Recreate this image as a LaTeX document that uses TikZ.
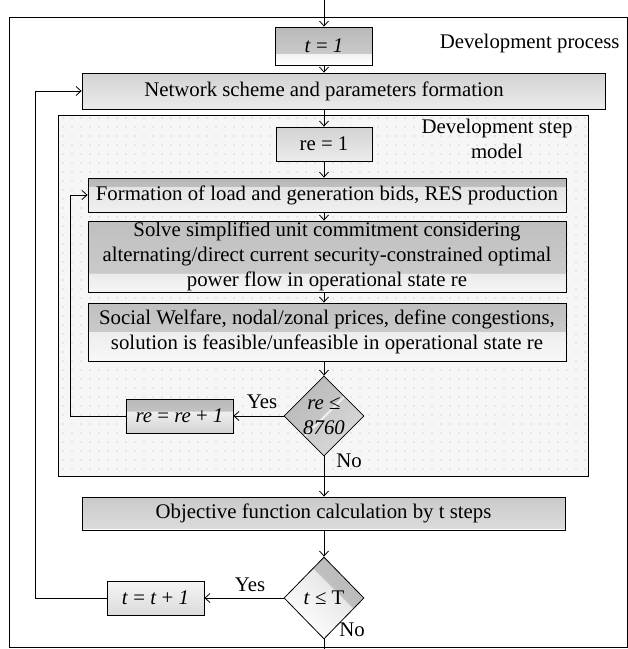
\documentclass[tikz,border=0pt]{standalone}
\usepackage{fontspec}
\setmainfont{Liberation Serif}
\usetikzlibrary{arrows.meta,shapes.geometric,patterns.meta}

% glossy box fills: light lower band, darker upper band
\pgfdeclareverticalshading{shT}{100bp}{color(0bp)=(white); color(25bp)=(white); color(40bp)=(gray!10); color(40.5bp)=(gray!42); color(75bp)=(gray!55); color(100bp)=(gray!55)}
\pgfdeclareverticalshading{shNet}{100bp}{color(0bp)=(gray!15); color(25bp)=(gray!15); color(75bp)=(gray!35); color(100bp)=(gray!35)}
\pgfdeclareverticalshading{shForm}{100bp}{color(0bp)=(gray!12); color(25bp)=(gray!12); color(62bp)=(gray!22); color(62.5bp)=(gray!50); color(75bp)=(gray!58); color(100bp)=(gray!58)}
\pgfdeclareverticalshading{shSolve}{100bp}{color(0bp)=(gray!8); color(25bp)=(gray!8); color(38bp)=(gray!16); color(38.5bp)=(gray!42); color(75bp)=(gray!50); color(100bp)=(gray!50)}
\pgfdeclareverticalshading{shSocial}{100bp}{color(0bp)=(gray!6); color(25bp)=(gray!6); color(50bp)=(gray!14); color(50.5bp)=(gray!42); color(75bp)=(gray!50); color(100bp)=(gray!50)}
\pgfdeclareverticalshading{shObj}{100bp}{color(0bp)=(white); color(25bp)=(white); color(27bp)=(white); color(27.5bp)=(gray!28); color(75bp)=(gray!42); color(100bp)=(gray!42)}
\pgfdeclareverticalshading{shInc}{100bp}{color(0bp)=(gray!35); color(25bp)=(gray!35); color(57bp)=(gray!12); color(57.5bp)=(gray!48); color(75bp)=(gray!55); color(100bp)=(gray!55)}
\pgfdeclareverticalshading{shTinc}{100bp}{color(0bp)=(gray!28); color(25bp)=(gray!28); color(75bp)=(gray!8); color(100bp)=(gray!8)}
\pgfdeclareverticalshading{shDiaA}{100bp}{color(0bp)=(gray!30); color(25bp)=(gray!30); color(49bp)=(gray!40); color(50bp)=(gray!5); color(51bp)=(gray!45); color(75bp)=(gray!55); color(100bp)=(gray!55)}
\pgfdeclareverticalshading{shDiaB}{100bp}{color(0bp)=(white); color(25bp)=(white); color(58bp)=(gray!18); color(58.5bp)=(gray!50); color(75bp)=(gray!55); color(100bp)=(gray!55)}

\tikzset{
  txt/.style={font=\fontsize{20.8}{25}\selectfont},
  box/.style={txt, draw=black, line width=0.8pt, rectangle, inner sep=0pt, align=center},
  dia/.style={txt, draw=black, line width=0.8pt, diamond, inner sep=0pt, shading angle=#1},
  flow/.style={line width=0.8pt, -{Straight Barb[length=5pt,width=9pt]}},
  line/.style={line width=0.8pt},
}

\begin{document}
\begin{tikzpicture}[x=1pt, y=-1pt]
\useasboundingbox (0,0) rectangle (628,649);

% outer frame of the development process
\draw[line] (9,17) rectangle (627,647);
\node[txt, anchor=east] (devproc) at (623,43) {Development process};

% dotted frame of the development step model
\path[preaction={fill=gray!7}, pattern={Dots[distance=9pt, radius=0.55pt]}, pattern color=gray!60, draw=black, line width=0.8pt]
  (58,115) rectangle (588,476);
\node[txt, align=center] (devstep) at (497,139) {Development step\\model};

\coordinate (entry) at (324,0);
\coordinate (exit) at (324,649);

\node[box, shading=shT, minimum width=97pt, minimum height=38pt] (t1) at (324,46) {\textit{t} = \textit{1}};
\node[box, shading=shNet, minimum width=523pt, minimum height=36pt,
      label={[txt, xshift=-19.5pt]center:Network scheme and parameters formation}] (net) at (343.5,91) {};
\node[box, shading=shNet, minimum width=96pt, minimum height=34pt] (re1) at (324,144) {re = 1};
\node[box, shading=shForm, minimum width=478pt, minimum height=34pt] (form) at (327,195) {Formation of load and generation bids, RES production};
\node[box, shading=shSolve, minimum width=478pt, minimum height=71pt] (solve) at (327,256.5)
  {Solve simplified unit commitment considering\\alternating/direct current security-constrained optimal\\power flow in operational state re};
\node[box, shading=shSocial, minimum width=478pt, minimum height=58pt] (social) at (327,332)
  {Social Welfare, nodal/zonal prices, define congestions,\\solution is feasible/unfeasible in operational state re};
\node[dia=45, shading=shDiaA, minimum width=80pt, minimum height=80pt,
      label={[txt, align=center]center:\textit{re} ≤\\\textit{8760}}] (dia1) at (324,416) {};
\node[box, shading=shInc, minimum width=107pt, minimum height=34pt] (inc) at (179.5,416) {\textit{re} = \textit{re} + \textit{1}};
\node[txt] (yes1) at (262,402) {Yes};
\node[txt] (no1) at (349,461) {No};

\node[box, shading=shObj, minimum width=483pt, minimum height=33pt] (obj) at (323.5,513.5) {Objective function calculation by t steps};
\node[dia=-45, shading=shDiaB, minimum width=80pt, minimum height=82pt,
      label={[txt]center:\textit{t} ≤ T}] (dia2) at (324,598) {};
\node[box, shading=shTinc, minimum width=97pt, minimum height=34pt] (tinc) at (155.5,598) {\textit{t} = \textit{t} + \textit{1}};
\node[txt] (yes2) at (250,585) {Yes};
\node[txt] (no2) at (352,630) {No};

% main flow
\draw[flow] (entry) -- (t1);
\draw[flow] (t1) -- (net.north -| t1);
\draw[flow] (net.south -| re1) -- (re1);
\draw[flow] (re1) -- (form.north -| re1);
\draw[flow] (form.south -| re1) -- (solve.north -| re1);
\draw[flow] (solve.south -| re1) -- (social.north -| re1);
\draw[flow] (social.south -| dia1) -- (dia1.north);
\draw[flow] (dia1.west) -- (inc.east);
\draw[flow] (inc.west) -- (70,416) -- (70,195) -- (form.west);
\draw[flow] (dia1.south) -- (obj.north -| dia1);
\draw[flow] (obj.south -| dia2) -- (dia2.north);
\draw[flow] (dia2.west) -- (tinc.east);
\draw[flow] (tinc.west) -- (35,598) -- (35,91) -- (net.west);
\draw[line] (dia2.south) -- (exit);
\end{tikzpicture}
\end{document}
